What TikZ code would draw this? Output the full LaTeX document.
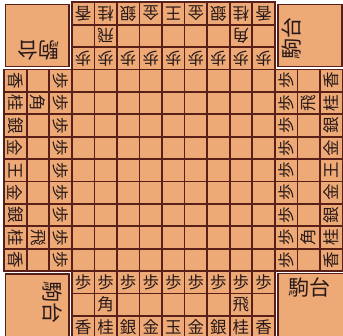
\documentclass[tikz,border=0pt]{standalone}
\usepackage{fontspec}
\newfontfamily\jp{Noto Sans CJK JP}
\definecolor{boardtan}{RGB}{238,170,118}
\definecolor{gridbrown}{RGB}{88,32,24}
\definecolor{inkdark}{RGB}{40,24,24}
\begin{document}
\begin{tikzpicture}[x=22.55pt,y=-22.4pt,
  piece/.style={font=\jp\fontsize{16.5}{16.5}\selectfont, text=inkdark, inner sep=0pt},
  komadai/.style={draw=gridbrown, fill=boardtan, line width=1.6pt},
  dailabel/.style={font=\jp\fontsize{21}{21}\selectfont, text=inkdark, inner sep=0pt},
  gridline/.style={draw=gridbrown, line width=1.7pt, line cap=rect}]
\useasboundingbox (-4.2pt,2.3pt) rectangle (338.8pt,-332.7pt);
\fill[white] (-4.2pt,2.3pt) rectangle (338.8pt,-332.7pt);
\clip (-4.2pt,2.3pt) rectangle (338.8pt,-332.7pt);
% board
\fill[boardtan] (3,0) rectangle (12,15);
\fill[boardtan] (0,3) rectangle (15,12);
\foreach \i in {0,1,2,13,14,15} \draw[gridline] (\i,3) -- (\i,12);
\foreach \i in {3,...,12} \draw[gridline] (\i,0) -- (\i,15);
\foreach \j in {0,1,2,13,14,15} \draw[gridline] (3,\j) -- (12,\j);
\foreach \j in {3,...,12} \draw[gridline] (0,\j) -- (15,\j);
% komadai
\draw[komadai] (0.06,0.1) rectangle (2.87,2.87);
\draw[komadai] (12.15,0.1) rectangle (14.97,2.87);
\draw[komadai] (0.06,12.13) rectangle (2.87,15.2);
\draw[komadai] (12.15,12.1) rectangle (15.2,15.2);
\node[dailabel, rotate=180] (daiTL) at (1.5,2.17) {駒台};
\node[dailabel, rotate=90]  (daiTR) at (12.76,1.6) {駒台};
\node[dailabel, rotate=-90] (daiBL) at (2.14,13.4) {駒台};
\node[dailabel]             (daiBR) at (13.55,12.75) {駒台};
% bottom player
\foreach \p [count=\k from 3] in {香,桂,銀,金,玉,金,銀,桂,香}
  \node[piece] (b\k) at (\k+0.5,14.5) {\p};
\foreach \k in {3,...,11} \node[piece] (bp\k) at (\k+0.5,12.5) {歩};
\node[piece] (bkaku) at (4.5,13.5) {角};
\node[piece] (bhisha) at (10.5,13.5) {飛};
% top player
\foreach \p [count=\k from 3] in {香,桂,銀,金,王,金,銀,桂,香}
  \node[piece, rotate=180] (t\k) at (\k+0.5,0.5) {\p};
\foreach \k in {3,...,11} \node[piece, rotate=180] (tp\k) at (\k+0.5,2.5) {歩};
\node[piece, rotate=180] (thisha) at (4.5,1.5) {飛};
\node[piece, rotate=180] (tkaku) at (10.5,1.5) {角};
% left player
\foreach \p [count=\k from 3] in {香,桂,銀,金,王,金,銀,桂,香}
  \node[piece, rotate=-90] (l\k) at (0.5,\k+0.5) {\p};
\foreach \k in {3,...,11} \node[piece, rotate=-90] (lp\k) at (2.5,\k+0.5) {歩};
\node[piece, rotate=-90] (lkaku) at (1.5,4.5) {角};
\node[piece, rotate=-90] (lhisha) at (1.5,10.5) {飛};
% right player
\foreach \p [count=\k from 3] in {香,桂,銀,金,王,金,銀,桂,香}
  \node[piece, rotate=90] (r\k) at (14.5,\k+0.5) {\p};
\foreach \k in {3,...,11} \node[piece, rotate=90] (rp\k) at (12.5,\k+0.5) {歩};
\node[piece, rotate=90] (rhisha) at (13.5,4.5) {飛};
\node[piece, rotate=90] (rkaku) at (13.5,10.5) {角};
\end{tikzpicture}
\end{document}
